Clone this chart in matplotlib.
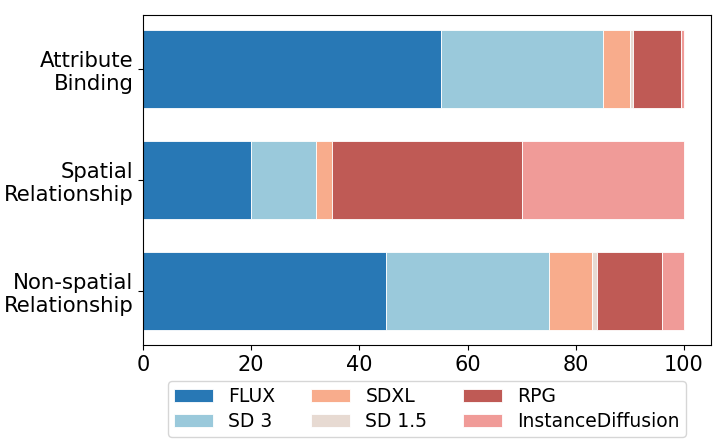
import numpy as np
import matplotlib
matplotlib.use('Agg')
import matplotlib.pyplot as plt

categories = ['Attribute\nBinding', 'Spatial\nRelationship', 'Non-spatial\nRelationship']
models = ['FLUX', 'SD 3', 'SDXL', 'SD 1.5', 'RPG', 'InstanceDiffusion']
flux = [55, 20, 45]
sd3 = [30, 12, 30]
sdxl = [5, 3, 8]
sd15 = [0.5, 0, 1]
rpg = [9, 35, 12]
instdiff = [0.5, 30, 4]
colors = ['#2878b5', '#9ac9db', '#f8ac8c', '#e7dad2', '#bf5a55', '#f09b98']

series = [flux, sd3, sdxl, sd15, rpg, instdiff]

fig = plt.figure(figsize=(7.24, 4.41), dpi=100)
ax = fig.add_axes([0.1975, 0.218, 0.7845, 0.747])

y = np.arange(len(categories))
left = np.zeros(len(categories))
for name, vals, c in zip(models, series, colors):
    ax.barh(y, vals, left=left, height=0.7, color=c, label=name,
            edgecolor='white', linewidth=0.6)
    left += np.array(vals)

ax.set_yticks(y)
ax.set_yticklabels(categories, fontsize=15.3)
ax.invert_yaxis()
ax.tick_params(axis='x', labelsize=15)
ax.set_xticks([0, 20, 40, 60, 80, 100])

ax.legend(loc='upper center', bbox_to_anchor=(0.5, -0.082), ncol=3, fontsize=13.5,
          columnspacing=1.9, handlelength=2.1, labelspacing=0.35, borderpad=0.3)

fig.savefig('out.png', dpi=100)
